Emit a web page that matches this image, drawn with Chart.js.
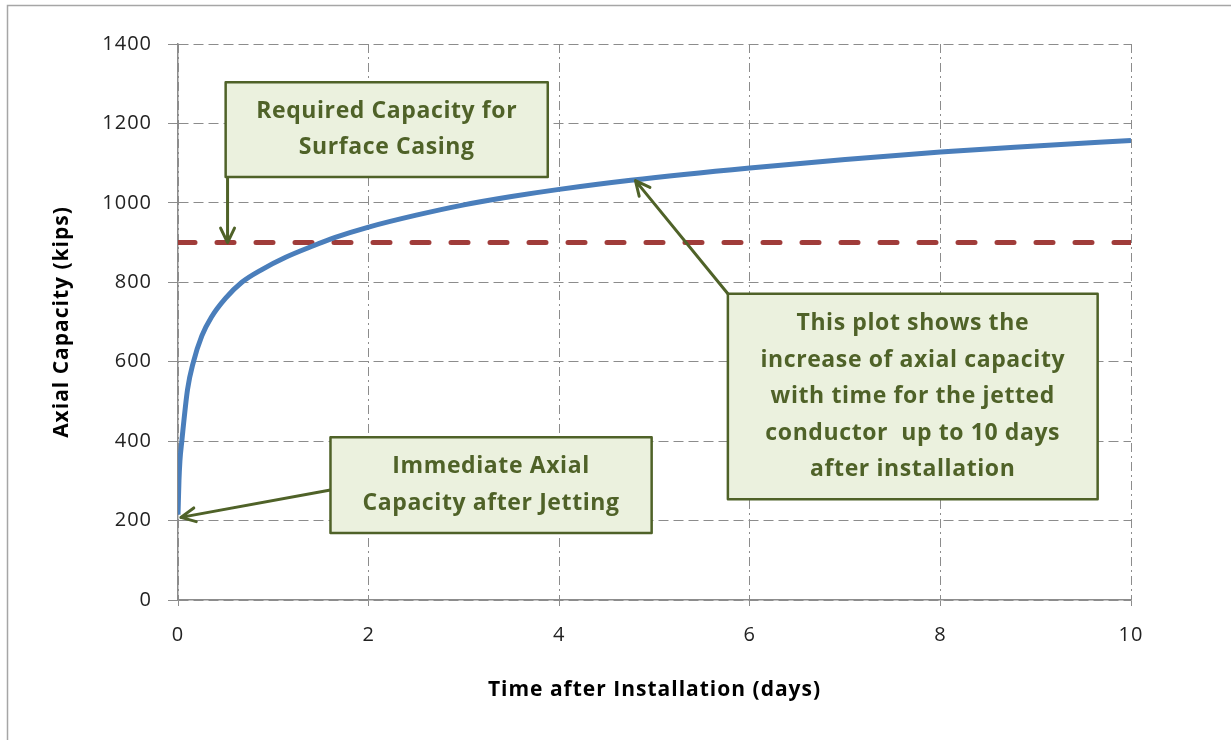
<!DOCTYPE html>
<html>
<head>
<meta charset="utf-8">
<script src="https://cdn.jsdelivr.net/npm/chart.js@4/dist/chart.umd.min.js"></script>
<style>
  html, body { margin: 0; padding: 0; background: #fff; }
  #wrap { width: 1231px; height: 740px; position: relative; }
</style>
</head>
<body>
<div id="wrap"><canvas id="capacityChart" width="1231" height="740"></canvas></div>
<script>
// axial capacity vs time
const days = [0, 0.01, 0.02, 0.04, 0.1, 0.16, 0.25, 0.35, 0.5, 0.67, 0.88, 1.13, 1.4, 1.65, 2, 2.5, 3, 3.5, 4, 4.75, 6, 7, 8, 9, 10];
const capacity = [215, 300, 350, 400, 530, 598, 665, 712, 760, 800, 832, 863, 890, 913, 939, 969, 995, 1016, 1034, 1057, 1088, 1109, 1128, 1143, 1157];

// required capacity for surface casing
const requiredDays = [0, 10];
const requiredCapacity = [900, 900];

const xTicks = [0, 2, 4, 6, 8, 10];
const yTicks = [0, 200, 400, 600, 800, 1000, 1200, 1400];

// callout boxes, in data units: [left, right, top, bottom], arrow from -> to
const callouts = [
    { lines: ['Required Capacity for', 'Surface Casing'],
      box: [0.5, 3.88, 1304, 1065], from: [0.52, 1065], to: [0.52, 900] },
    { lines: ['Immediate Axial', 'Capacity after Jetting'],
      box: [1.6, 4.97, 410, 169], from: [1.6, 277], to: [0.03, 208] },
    { lines: ['This plot shows the', 'increase of axial capacity', 'with time for the jetted',
              'conductor  up to 10 days', 'after installation'],
      box: [5.77, 9.65, 771, 254], from: [5.77, 771], to: [4.8, 1056] }
];

const GREEN = '#4f6228';
const FILL = '#ebf1de';

function toXY(xs, ys) {
    return xs.map((x, i) => ({ x: x, y: ys[i] }));
}

// --- HELPER: frame round the chart ---
const framePlugin = {
    id: 'frame',
    beforeDraw(chart) {
        const ctx = chart.ctx;
        ctx.save();
        ctx.fillStyle = '#fff';
        ctx.fillRect(0, 0, chart.width, chart.height);
        ctx.strokeStyle = '#a6a6a6';
        ctx.lineWidth = 1.5;
        ctx.strokeRect(7.5, 5.5, 1300, 800);
        ctx.restore();
        // Excel text is set a little loose
        ctx.letterSpacing = '1px';
    }
};

// --- HELPER: callouts with arrows ---
function drawArrow(ctx, x1, y1, x2, y2) {
    const ang = Math.atan2(y2 - y1, x2 - x1);
    const head = 16;
    ctx.beginPath();
    ctx.moveTo(x1, y1);
    ctx.lineTo(x2, y2);
    ctx.moveTo(x2 + head * Math.cos(ang + Math.PI - 0.45), y2 + head * Math.sin(ang + Math.PI - 0.45));
    ctx.lineTo(x2, y2);
    ctx.lineTo(x2 + head * Math.cos(ang + Math.PI + 0.45), y2 + head * Math.sin(ang + Math.PI + 0.45));
    ctx.stroke();
}

const calloutPlugin = {
    id: 'callouts',
    afterDatasetsDraw(chart) {
        const ctx = chart.ctx;
        const xs = chart.scales.x, ys = chart.scales.y;
        ctx.save();
        callouts.forEach(c => {
            ctx.strokeStyle = GREEN;
            ctx.lineWidth = 3;
            ctx.lineCap = 'round';
            ctx.lineJoin = 'round';
            drawArrow(ctx, xs.getPixelForValue(c.from[0]), ys.getPixelForValue(c.from[1]),
                      xs.getPixelForValue(c.to[0]), ys.getPixelForValue(c.to[1]));

            const l = xs.getPixelForValue(c.box[0]), r = xs.getPixelForValue(c.box[1]);
            const t = ys.getPixelForValue(c.box[2]), b = ys.getPixelForValue(c.box[3]);
            ctx.fillStyle = FILL;
            ctx.fillRect(l, t, r - l, b - t);
            ctx.lineWidth = 2.5;
            ctx.lineCap = 'butt';
            ctx.strokeRect(l, t, r - l, b - t);

            ctx.fillStyle = GREEN;
            ctx.font = 'bold 23px "Open Sans"';
            ctx.letterSpacing = '0.6px';
            ctx.textAlign = 'center';
            ctx.textBaseline = 'middle';
            const lh = 36.5;
            const cy = (t + b) / 2 - (c.lines.length - 1) * lh / 2;
            c.lines.forEach((s, i) => ctx.fillText(s, (l + r) / 2, cy + i * lh));
        });
        ctx.restore();
    }
};

const ctx = document.getElementById('capacityChart').getContext('2d');
new Chart(ctx, {
    type: 'line',
    data: {
        datasets: [
            {
                label: 'Axial Capacity',
                data: toXY(days, capacity),
                borderColor: '#4a7ebb',
                borderWidth: 5,
                pointRadius: 0,
                cubicInterpolationMode: 'monotone',
                fill: false,
                order: 1
            },
            {
                label: 'Required Capacity',
                data: toXY(requiredDays, requiredCapacity),
                borderColor: '#a03c3a',
                borderWidth: 5,
                borderDash: [17, 22],
                borderCapStyle: 'round',
                pointRadius: 0,
                fill: false,
                order: 2
            }
        ]
    },
    options: {
        responsive: false,
        animation: false,
        layout: { padding: { left: 0, top: 44, right: 100, bottom: 0 } },
        plugins: {
            legend: { display: false },
            tooltip: { enabled: false }
        },
        scales: {
            x: {
                type: 'linear',
                min: 0,
                max: 10,
                afterBuildTicks: s => { s.ticks = xTicks.map(v => ({ value: v })); },
                afterFit: s => { s.height = 140; },
                ticks: { color: '#222', font: { family: 'Open Sans', size: 20 }, padding: 17 },
                grid: { color: '#8c8c8c', lineWidth: 1, tickLength: 6, tickBorderDash: [], tickColor: '#8c8c8c' },
                border: { display: true, color: '#8c8c8c', width: 1.5, dash: [9, 4, 2, 4] },
                title: {
                    display: true,
                    text: 'Time after Installation (days)',
                    color: '#000',
                    font: { family: 'Open Sans', size: 21, weight: 'bold' },
                    padding: { top: 0, bottom: 37 }
                }
            },
            y: {
                min: 0,
                max: 1400,
                afterBuildTicks: s => { s.ticks = yTicks.map(v => ({ value: v })); },
                afterFit: s => { s.width = 178; },
                ticks: {
                    color: '#222',
                    font: { family: 'Open Sans', size: 20 },
                    padding: 16,
                    callback: v => String(v)
                },
                grid: { color: '#8c8c8c', lineWidth: 1, tickLength: 10, tickBorderDash: [], tickColor: '#8c8c8c' },
                border: { display: true, color: '#8c8c8c', width: 1.5, dash: [10, 5] },
                title: {
                    display: true,
                    text: 'Axial Capacity (kips)',
                    color: '#000',
                    font: { family: 'Open Sans', size: 21, weight: 'bold' },
                    padding: { top: 49, bottom: 0 }
                }
            }
        }
    },
    plugins: [framePlugin, calloutPlugin]
});
</script>
</body>
</html>
